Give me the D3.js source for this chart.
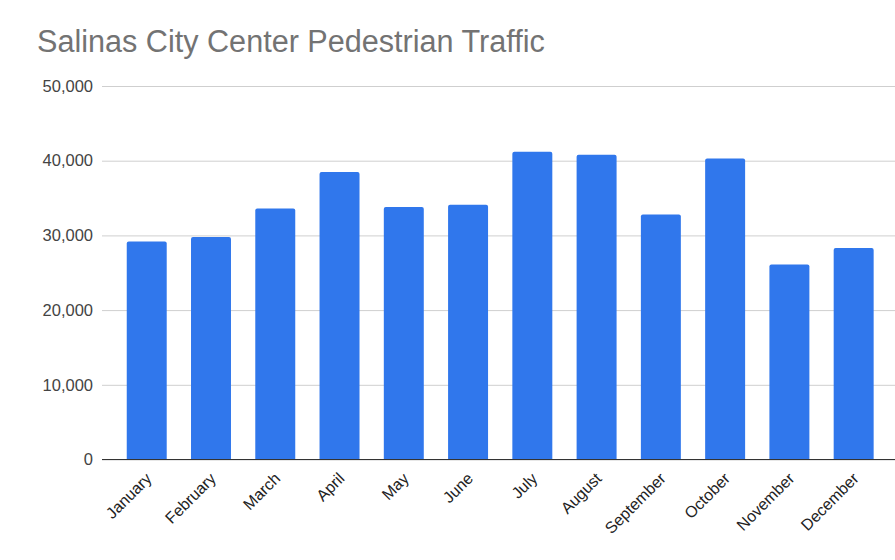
<!DOCTYPE html>
<html>
<head>
<meta charset="utf-8">
<script src="https://cdn.jsdelivr.net/npm/d3@7"></script>
<style>
  html, body { margin: 0; padding: 0; background: #ffffff; }
  svg { display: block; }
</style>
</head>
<body>
<svg id="chart" width="895" height="560"></svg>
<script>
// Monthly pedestrian counts
const months = ["January", "February", "March", "April", "May", "June",
                "July", "August", "September", "October", "November", "December"];
const traffic = [29200, 29800, 33600, 38500, 33800, 34100,
                 41200, 40800, 32800, 40300, 26100, 28300];
const yTicks = [0, 10000, 20000, 30000, 40000, 50000];
const title = "Salinas City Center Pedestrian Traffic";

const W = 895, H = 560;
const plot = { left: 102, right: 895, top: 86, bottom: 459.5 };

const svg = d3.select("#chart");

const x = d3.scaleBand()
  .domain(months)
  .range([114.6, 885.8])
  .paddingInner(0.378)
  .paddingOuter(0.189);

const y = d3.scaleLinear()
  .domain([0, 50000])
  .range([plot.bottom, plot.top]);

// Title
svg.append("text")
  .attr("x", 37)
  .attr("y", 52)
  .attr("font-family", "Liberation Sans, Arial, sans-serif")
  .attr("font-size", 30.6)
  .attr("fill", "#737373")
  .text(title);

// Horizontal gridlines with value labels
const yAxis = d3.axisLeft(y)
  .tickValues(yTicks)
  .tickSize(-(plot.right - plot.left))
  .tickPadding(9)
  .tickFormat(d3.format(","));

const gy = svg.append("g")
  .attr("transform", `translate(${plot.left},0)`)
  .call(yAxis);
gy.select(".domain").remove();
gy.selectAll(".tick line")
  .attr("stroke", "#cfcfcf")
  .attr("stroke-width", 1);
gy.selectAll(".tick text")
  .attr("font-family", "Liberation Sans, Arial, sans-serif")
  .attr("font-size", 16.5)
  .attr("fill", "#444444");

// Bars with slightly rounded tops
const r = 2;
svg.append("g")
  .selectAll("path")
  .data(months.map((m, i) => ({ m, v: traffic[i] })))
  .join("path")
  .attr("fill", "#3077ec")
  .attr("d", d => {
    const x0 = x(d.m), x1 = x0 + x.bandwidth();
    const yt = y(d.v), yb = y(0);
    return `M${x0},${yb}V${yt + r}Q${x0},${yt} ${x0 + r},${yt}H${x1 - r}Q${x1},${yt} ${x1},${yt + r}V${yb}Z`;
  });

// Baseline
svg.append("line")
  .attr("x1", plot.left)
  .attr("x2", plot.right)
  .attr("y1", y(0))
  .attr("y2", y(0))
  .attr("stroke", "#333333")
  .attr("stroke-width", 1.2);

// Rotated month labels
const xAxis = d3.axisBottom(x).tickSize(0).tickPadding(0);
const gx = svg.append("g")
  .attr("transform", `translate(0,${plot.bottom})`)
  .call(xAxis);
gx.select(".domain").remove();
gx.selectAll(".tick text")
  .attr("font-family", "Liberation Sans, Arial, sans-serif")
  .attr("font-size", 16)
  .attr("fill", "#222222")
  .attr("text-anchor", "end")
  .attr("dy", null)
  .attr("y", 0)
  .attr("transform", "translate(6,20) rotate(-45)");
</script>
</body>
</html>
